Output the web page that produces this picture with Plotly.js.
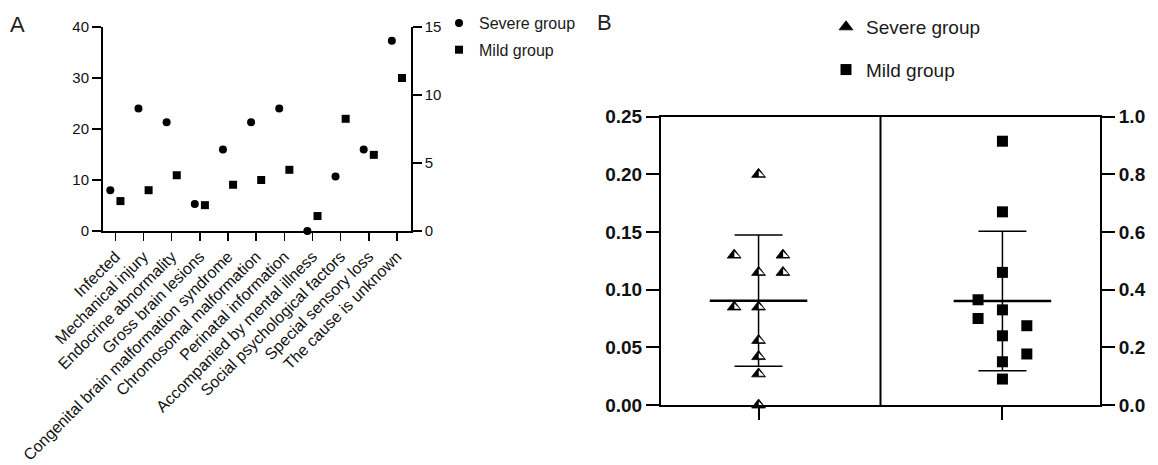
<!DOCTYPE html>
<html><head><meta charset="utf-8">
<script src="https://cdn.plot.ly/plotly-3.0.1.min.js"></script>
<style>html,body{margin:0;padding:0;background:#fff}#chart{width:1158px;height:465px}</style>
</head><body><div id="chart"></div>
<script>
// ---------- Panel A data ----------
const categories = ["Infected", "Mechanical injury", "Endocrine abnormality", "Gross brain lesions",
  "Congenital brain malformation syndrome", "Chromosomal malformation", "Perinatal information",
  "Accompanied by mental illness", "Social psychological factors", "Special sensory loss", "The cause is unknown"];
const severeCounts = [8, 24, 21.3, 5.3, 16, 21.3, 24, 0, 10.7, 16, 37.3];     // left axis
const mildCounts = [2.2, 3, 4.1, 1.9, 3.4, 3.75, 4.5, 1.1, 8.25, 5.6, 11.25]; // right axis
const leftTicksA = [0, 10, 20, 30, 40];
const rightTicksA = [0, 5, 10, 15];

// ---------- Panel B data ----------
const groupsB = ["Severe group", "Mild group"];
const severeValues = [0.20, 0.13, 0.13, 0.115, 0.115, 0.085, 0.085, 0.056, 0.042, 0.027, 0.0];
const severeSwarm = [0, -1, 1, 0, 1, -1, 0, 0, 0, 0, 0];
const mildValues = [0.915, 0.67, 0.46, 0.365, 0.33, 0.30, 0.275, 0.24, 0.177, 0.15, 0.09];
const mildSwarm = [0, 0, 0, -1, 0, -1, 1, 0, 1, 0, 0];
const severeMean = [0.0905], severeSD = [0.057];
const mildMean = [0.361], mildSD = [0.242];
const leftTicksB = [0, 0.05, 0.10, 0.15, 0.20, 0.25];
const rightTicksB = [0, 0.2, 0.4, 0.6, 0.8, 1.0];

// ---------- geometry ----------
const W = 1158, H = 465;
const PA = {l: 103, r: 410.7, t: 27, b: 231};
const PB = {l: 661, r: 1100, t: 116.7, b: 405};
const dx = p => [p.l / W, p.r / W];
const dy = p => [1 - p.b / H, 1 - p.t / H];
const FONT = "Liberation Sans, Arial, Helvetica, sans-serif";
const pairOffset = 0.18, swarmStep = 0.1;

const idx = categories.map((c, i) => i);

const traces = [
  {x: idx.map(i => i - pairOffset), y: severeCounts, xaxis: 'x', yaxis: 'y', type: 'scatter', mode: 'markers',
   name: 'Severe group', legend: 'legend', legendgroup: 'a1', cliponaxis: false,
   marker: {symbol: 'circle', size: 8, color: '#000'}},
  {x: idx.map(i => i + pairOffset), y: mildCounts, xaxis: 'x', yaxis: 'y2', type: 'scatter', mode: 'markers',
   name: 'Mild group', legend: 'legend', legendgroup: 'a2', cliponaxis: false,
   marker: {symbol: 'square', size: 8, color: '#000'}},
  // mean & SD
  {x: [0], y: severeMean, xaxis: 'x2', yaxis: 'y3', type: 'scatter', mode: 'markers', showlegend: false,
   cliponaxis: false, marker: {size: 1, color: 'rgba(0,0,0,0)'},
   error_y: {type: 'data', array: severeSD, width: 24, thickness: 1.5, color: '#000'},
   error_x: {type: 'data', array: [0.2], width: 0, thickness: 2.5, color: '#000'}},
  {x: [1], y: mildMean, xaxis: 'x2', yaxis: 'y4', type: 'scatter', mode: 'markers', showlegend: false,
   cliponaxis: false, marker: {size: 1, color: 'rgba(0,0,0,0)'},
   error_y: {type: 'data', array: mildSD, width: 24, thickness: 1.5, color: '#000'},
   error_x: {type: 'data', array: [0.2], width: 0, thickness: 2.5, color: '#000'}},
  // severe triangles (black) + white right half
  {x: severeSwarm.map(s => s * swarmStep), y: severeValues, xaxis: 'x2', yaxis: 'y3', type: 'scatter', mode: 'markers',
   name: groupsB[0], legend: 'legend2', legendgroup: 'b1', cliponaxis: false,
   marker: {symbol: 'triangle-up', size: 12, color: '#000', line: {color: '#000', width: 0.8}}},
  {x: severeSwarm.map(s => s * swarmStep), y: severeValues, xaxis: 'x2', yaxis: 'y3', type: 'scatter', mode: 'markers',
   showlegend: false, cliponaxis: false, hoverinfo: 'skip',
   marker: {symbol: 'triangle-nw', size: 6, angle: -90, standoff: 2, color: '#fff', line: {width: 0}}},
  {x: mildSwarm.map(s => 1 + s * swarmStep), y: mildValues, xaxis: 'x2', yaxis: 'y4', type: 'scatter', mode: 'markers',
   name: groupsB[1], legend: 'legend2', legendgroup: 'b2', cliponaxis: false,
   marker: {symbol: 'square', size: 11, color: '#000'}}
];

const axBase = {showline: true, linecolor: '#000', linewidth: 2, ticks: 'outside', tickcolor: '#000',
  showgrid: false, zeroline: false, fixedrange: true};

const layout = {
  width: W, height: H, autosize: false,
  margin: {l: 0, r: 0, t: 0, b: 0, pad: 0},
  paper_bgcolor: '#fff', plot_bgcolor: 'rgba(0,0,0,0)',
  font: {family: FONT, color: '#222', size: 14},
  showlegend: true,
  xaxis: Object.assign({}, axBase, {domain: dx(PA), anchor: 'y', range: [-0.44, 10.49],
    tickmode: 'array', tickvals: idx, ticktext: categories, tickangle: -45, ticklen: 8, tickwidth: 1.5,
    tickfont: {size: 16, color: '#111'}}),
  yaxis: Object.assign({}, axBase, {domain: dy(PA), anchor: 'x', range: [0, 40],
    tickmode: 'array', tickvals: leftTicksA, ticklen: 9, tickwidth: 1.5, tickfont: {size: 15, color: '#111'}}),
  yaxis2: Object.assign({}, axBase, {overlaying: 'y', side: 'right', anchor: 'x', range: [0, 15],
    tickmode: 'array', tickvals: rightTicksA, ticklen: 9, tickwidth: 1.5, tickfont: {size: 15, color: '#111'}}),
  xaxis2: Object.assign({}, axBase, {domain: dx(PB), anchor: 'y3', range: [-0.4, 1.4], mirror: true,
    tickmode: 'array', tickvals: [0, 1], ticktext: ['', ''], ticklen: 13, tickwidth: 2}),
  yaxis3: Object.assign({}, axBase, {domain: dy(PB), anchor: 'x2', range: [0, 0.25],
    tickmode: 'array', tickvals: leftTicksB, tickformat: '.2f', ticklen: 13, tickwidth: 2,
    tickfont: {size: 19, color: '#111', weight: 700}}),
  yaxis4: Object.assign({}, axBase, {overlaying: 'y3', side: 'right', anchor: 'x2', range: [0, 1],
    tickmode: 'array', tickvals: rightTicksB, tickformat: '.1f', ticklen: 13, tickwidth: 2,
    tickfont: {size: 19, color: '#111', weight: 700}}),
  shapes: [{type: 'line', xref: 'x2', yref: 'y3 domain', x0: 0.5, x1: 0.5, y0: 0, y1: 1,
    line: {color: '#000', width: 2}}],
  legend: {x: 439 / W, y: 1 - 6 / H, xanchor: 'left', yanchor: 'top', bgcolor: 'rgba(0,0,0,0)',
    font: {size: 16, color: '#1a1a1a'}, tracegroupgap: 3, itemwidth: 30},
  legend2: {x: 826 / W, y: 1 - 8 / H, xanchor: 'left', yanchor: 'top', bgcolor: 'rgba(0,0,0,0)',
    font: {size: 19, color: '#1a1a1a'}, tracegroupgap: 15, itemwidth: 30},
  annotations: [
    {text: 'A', xref: 'paper', yref: 'paper', x: 8 / W, y: 1 - 10 / H, xanchor: 'left', yanchor: 'top',
     showarrow: false, font: {size: 22, color: '#222'}},
    {text: 'B', xref: 'paper', yref: 'paper', x: 595 / W, y: 1 - 8 / H, xanchor: 'left', yanchor: 'top',
     showarrow: false, font: {size: 22, color: '#222'}}
  ]
};

Plotly.newPlot('chart', traces, layout, {displayModeBar: false, staticPlot: true});
</script>
</body></html>
